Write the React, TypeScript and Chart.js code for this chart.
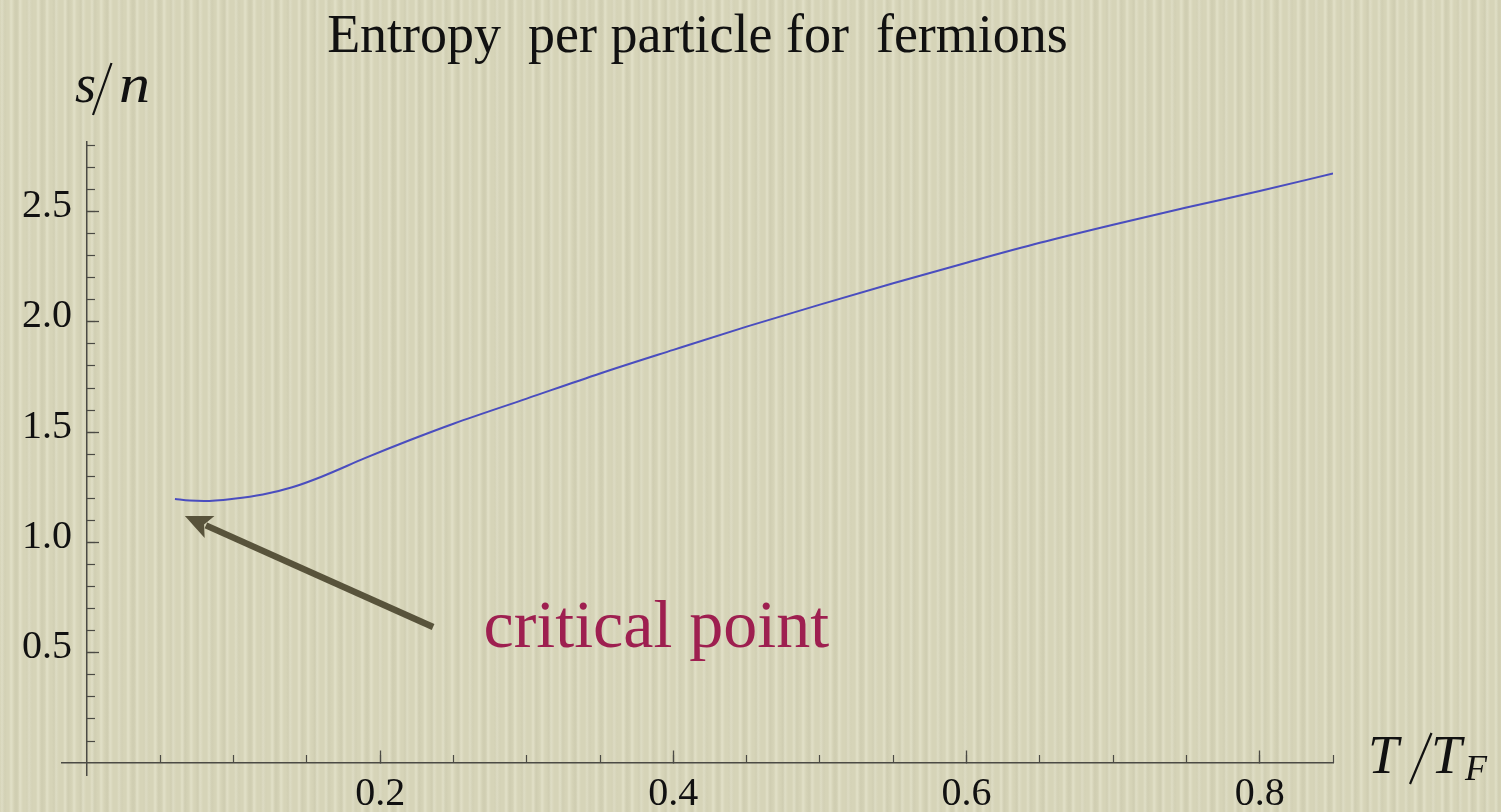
import React, { useEffect, useRef } from "react";
import { Chart, registerables } from "chart.js";

Chart.register(...registerables);

// Entropy per particle s/n of the unitary Fermi gas versus reduced temperature T/T_F
const temperatures = [
  0.06, 0.07, 0.08, 0.1, 0.12, 0.14, 0.16, 0.19, 0.22, 0.25, 0.3, 0.35, 0.4,
  0.45, 0.5, 0.55, 0.6, 0.65, 0.7, 0.75, 0.8, 0.85,
];
const entropyPerParticle = [
  1.197, 1.19, 1.188, 1.198, 1.217, 1.25, 1.298, 1.383, 1.463, 1.538, 1.652,
  1.766, 1.873, 1.978, 2.078, 2.175, 2.268, 2.358, 2.44, 2.518, 2.593, 2.672,
];

// Axis ticks
const xMajorTicks = [0.2, 0.4, 0.6, 0.8];
const xMajorLabels = ["0.2", "0.4", "0.6", "0.8"];
const xMinorTicks = [
  0.05, 0.1, 0.15, 0.2, 0.25, 0.3, 0.35, 0.4, 0.45, 0.5, 0.55, 0.6, 0.65, 0.7,
  0.75, 0.8, 0.85,
];
const yMajorTicks = [0.5, 1.0, 1.5, 2.0, 2.5];
const yMajorLabels = ["0.5", "1.0", "1.5", "2.0", "2.5"];
const yMinorTicks = [
  0.1, 0.2, 0.3, 0.4, 0.5, 0.6, 0.7, 0.8, 0.9, 1.0, 1.1, 1.2, 1.3, 1.4, 1.5,
  1.6, 1.7, 1.8, 1.9, 2.0, 2.1, 2.2, 2.3, 2.4, 2.5, 2.6, 2.7, 2.8,
];

const chartTitle = "Entropy  per particle for  fermions";
const annotationText = "critical point";

// Annotation arrow (data coordinates)
const arrowTip = { x: 0.0668, y: 1.12 };
const arrowTail = { x: 0.2361, y: 0.6165 };
const annotationAnchor = { x: 0.2705, y: 0.525 };

const AXIS_COLOR = "#4b4a44";
const SERIF = "'Liberation Serif', 'Times New Roman', serif";

const X_MIN = -0.01705;
const X_MAX = 0.85;
const Y_MIN = -0.054;
const Y_MAX = 2.815;
// where the y tick labels end, a little left of the vertical axis
const Y_LABEL_X = -0.0102;

const decorations = {
  id: "decorations",
  afterDraw(chart: any) {
    const { ctx, chartArea, scales } = chart;
    const xs = scales.x;
    const ys = scales.y;
    ctx.save();

    // title
    ctx.fillStyle = "#111";
    ctx.textBaseline = "alphabetic";
    ctx.textAlign = "center";
    ctx.font = `54px ${SERIF}`;
    ctx.fillText(chartTitle, (chartArea.left + chartArea.right) / 2, 52);

    // y axis label: s/n
    ctx.textAlign = "left";
    ctx.font = `italic 54px ${SERIF}`;
    ctx.fillText("s", 75, 102);
    ctx.save();
    ctx.translate(119, 102);
    ctx.scale(1.15, 1);
    ctx.fillText("n", 0, 0);
    ctx.restore();
    ctx.strokeStyle = "#111";
    ctx.lineWidth = 2.2;
    ctx.beginPath();
    ctx.moveTo(111.5, 63);
    ctx.lineTo(93, 115);
    ctx.stroke();

    // x axis label: T/T_F
    ctx.font = `italic 55px ${SERIF}`;
    ctx.fillText("T", 1368, 773);
    ctx.fillText("T", 1431, 773);
    ctx.font = `italic 36px ${SERIF}`;
    ctx.fillText("F", 1465, 780);
    ctx.beginPath();
    ctx.moveTo(1431.5, 733);
    ctx.lineTo(1410, 784);
    ctx.stroke();

    // arrow pointing at the start of the curve
    const tx = xs.getPixelForValue(arrowTip.x);
    const ty = ys.getPixelForValue(arrowTip.y);
    const sx = xs.getPixelForValue(arrowTail.x);
    const sy = ys.getPixelForValue(arrowTail.y);
    const ang = Math.atan2(ty - sy, tx - sx);
    const headLen = 27;
    const headHalf = 12;
    const bx = tx - headLen * Math.cos(ang);
    const by = ty - headLen * Math.sin(ang);
    ctx.strokeStyle = "#58533b";
    ctx.fillStyle = "#58533b";
    ctx.lineWidth = 6.5;
    ctx.lineCap = "butt";
    ctx.beginPath();
    ctx.moveTo(sx, sy);
    ctx.lineTo(bx + 4 * Math.cos(ang), by + 4 * Math.sin(ang));
    ctx.stroke();
    ctx.beginPath();
    ctx.moveTo(tx, ty);
    ctx.lineTo(bx + headHalf * Math.sin(ang), by - headHalf * Math.cos(ang));
    ctx.lineTo(bx + 6 * Math.cos(ang), by + 6 * Math.sin(ang));
    ctx.lineTo(bx - headHalf * Math.sin(ang), by + headHalf * Math.cos(ang));
    ctx.closePath();
    ctx.fill();

    // annotation label
    ctx.fillStyle = "#9e1f50";
    ctx.font = `68px ${SERIF}`;
    ctx.textAlign = "left";
    ctx.fillText(
      annotationText,
      xs.getPixelForValue(annotationAnchor.x),
      ys.getPixelForValue(annotationAnchor.y)
    );
    ctx.restore();
  },
};

export default function App() {
  const canvasRef = useRef<HTMLCanvasElement | null>(null);

  useEffect(() => {
    if (!canvasRef.current) return;
    const tickFont = { family: SERIF, size: 40 };
    const tickGrid = (len: number, width: number) => ({
      drawOnChartArea: false,
      drawTicks: true,
      tickLength: len,
      tickColor: AXIS_COLOR,
      tickWidth: width,
    });
    const chart = new Chart(canvasRef.current, {
      type: "line",
      data: {
        datasets: [
          {
            data: temperatures.map((t, i) => ({ x: t, y: entropyPerParticle[i] })),
            borderColor: "#4a4dbf",
            borderWidth: 2,
            pointRadius: 0,
            fill: false,
            cubicInterpolationMode: "monotone",
            xAxisID: "x",
            yAxisID: "y",
          },
        ],
      },
      options: {
        animation: false,
        responsive: false,
        devicePixelRatio: 1,
        layout: { padding: { left: 62, right: 168, top: 142, bottom: 37 } },
        plugins: {
          legend: { display: false },
          tooltip: { enabled: false },
          title: { display: false },
        },
        scales: {
          x: {
            type: "linear",
            min: X_MIN,
            max: X_MAX,
            position: { y: 0 },
            afterBuildTicks: (s: any) => {
              s.ticks = xMajorTicks.map((v) => ({ value: v }));
            },
            border: { display: true, color: AXIS_COLOR, width: 1.5 },
            grid: tickGrid(-13, 1.3),
            ticks: {
              color: "#111",
              font: tickFont,
              padding: 20,
              maxRotation: 0,
              autoSkip: false,
              callback: (v: any) => {
                const i = xMajorTicks.indexOf(Number(v));
                return i >= 0 ? xMajorLabels[i] : "";
              },
            },
          },
          xMinor: {
            type: "linear",
            axis: "x",
            min: X_MIN,
            max: X_MAX,
            position: { y: 0 },
            afterBuildTicks: (s: any) => {
              s.ticks = xMinorTicks.map((v) => ({ value: v }));
            },
            border: { display: false },
            grid: tickGrid(-8, 1.2),
            ticks: { display: false },
          },
          y: {
            type: "linear",
            min: Y_MIN,
            max: Y_MAX,
            position: { x: 0 },
            afterBuildTicks: (s: any) => {
              s.ticks = yMajorTicks.map((v) => ({ value: v }));
            },
            border: { display: true, color: AXIS_COLOR, width: 1.5 },
            grid: tickGrid(-13, 1.3),
            ticks: { display: false },
          },
          yMinor: {
            type: "linear",
            axis: "y",
            min: Y_MIN,
            max: Y_MAX,
            position: { x: 0 },
            afterBuildTicks: (s: any) => {
              s.ticks = yMinorTicks.map((v) => ({ value: v }));
            },
            border: { display: false },
            grid: tickGrid(-8, 1.2),
            ticks: { display: false },
          },
          yLabels: {
            type: "linear",
            axis: "y",
            min: Y_MIN,
            max: Y_MAX,
            position: { x: Y_LABEL_X },
            afterBuildTicks: (s: any) => {
              s.ticks = yMajorTicks.map((v) => ({ value: v }));
            },
            border: { display: false },
            grid: { display: false, drawTicks: false },
            ticks: {
              color: "#111",
              font: tickFont,
              padding: 0,
              labelOffset: -5,
              autoSkip: false,
              callback: (v: any) => {
                const i = yMajorTicks.indexOf(Number(v));
                return i >= 0 ? yMajorLabels[i] : "";
              },
            },
          },
        },
      } as any,
      plugins: [decorations],
    });
    return () => chart.destroy();
  }, []);

  return (
    <div
      style={{
        position: "absolute",
        left: 0,
        top: 0,
        width: 1501,
        height: 812,
        overflow: "hidden",
        backgroundColor: "#d6d4b8",
        backgroundImage:
          "repeating-linear-gradient(90deg, rgba(255,255,240,0) 0px, rgba(255,255,240,0.28) 2px, rgba(255,255,240,0) 5px, rgba(0,0,0,0) 9px), repeating-linear-gradient(90deg, rgba(120,118,90,0) 0px, rgba(120,118,90,0.07) 3px, rgba(120,118,90,0) 7px, rgba(0,0,0,0) 13px)",
      }}
    >
      <canvas ref={canvasRef} width={1501} height={812} />
    </div>
  );
}
